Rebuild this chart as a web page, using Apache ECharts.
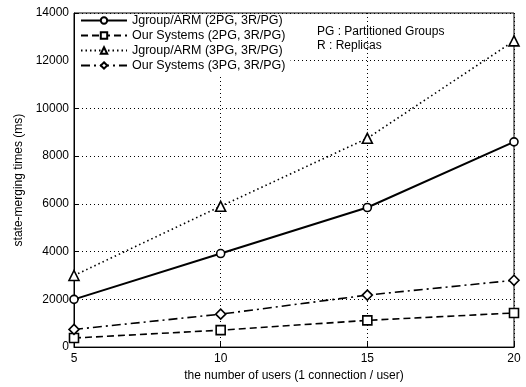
<!DOCTYPE html>
<html><head><meta charset="utf-8">
<script src="https://cdn.jsdelivr.net/npm/echarts@6/dist/echarts.min.js"></script>
<style>html,body{margin:0;padding:0;background:#fff}#c{width:526px;height:387px}</style>
</head><body><div id="c"></div>
<script>
const users = [5, 10, 15, 20];
const jgroup2PG = [2000, 3920, 5850, 8600];
const ours2PG = [380, 710, 1120, 1430];
const jgroup3PG = [3000, 5900, 8750, 12830];
const ours3PG = [740, 1380, 2180, 2800];
const seriesNames = ['Jgroup/ARM (2PG, 3R/PG)', 'Our Systems (2PG, 3R/PG)', 'Jgroup/ARM (3PG, 3R/PG)', 'Our Systems (3PG, 3R/PG)'];
const yTicks = [0, 2000, 4000, 6000, 8000, 10000, 12000, 14000];

const font = 'Liberation Sans, Arial, sans-serif';
function pts(v){ return users.map((u,i)=>[u, v[i]]); }
function mk(name, data, symbol, lineType, size){
  return {
    name, type:'line', data: pts(data), symbol, symbolSize: size,
    lineStyle:{color:'#000', width: lineType==='solid'?2:1.6, type: lineType},
    itemStyle:{color:'#fff', borderColor:'#000', borderWidth:1.6},
    emphasis:{disabled:true}, animation:false
  };
}
const chart = echarts.init(document.getElementById('c'));
chart.setOption({
  animation:false,
  grid:{left:74, right:12, top:13, bottom:38, show:true, borderColor:'#000', borderWidth:1},
  legend:{
    left:75, top:14, orient:'vertical', itemWidth:46, itemHeight:8, itemGap:2,
    padding:[0,5,4,5], backgroundColor:'#fff',
    textStyle:{fontFamily:font, fontSize:12.5, color:'#000'},
    data: seriesNames
  },
  xAxis:{
    type:'value', min:5, max:20, interval:5,
    name:'the number of users (1 connection / user)', nameLocation:'middle', nameGap:22,
    nameTextStyle:{fontFamily:font, fontSize:12, color:'#000'},
    axisLine:{lineStyle:{color:'#000'}},
    axisTick:{inside:true, length:5, lineStyle:{color:'#000'}},
    axisLabel:{fontFamily:font, fontSize:12, color:'#000', margin:6},
    splitLine:{show:true, lineStyle:{color:'#000', type:[1,3], width:1}}
  },
  yAxis:{
    type:'value', min:yTicks[0], max:yTicks[yTicks.length-1], interval:2000,
    name:'state-merging times (ms)', nameLocation:'middle', nameGap:40,
    nameTextStyle:{fontFamily:font, fontSize:12, color:'#000'},
    axisLine:{show:true, lineStyle:{color:'#000'}},
    axisTick:{show:true, inside:true, length:5, lineStyle:{color:'#000'}},
    axisLabel:{fontFamily:font, fontSize:12, color:'#000', margin:5, formatter: v => String(v)},
    splitLine:{show:true, lineStyle:{color:'#000', type:[1,3], width:1}}
  },
  graphic:[
    {type:'text', left:317, top:26, style:{text:'PG : Partitioned Groups', fontFamily:font, fontSize:12, fill:'#000'}},
    {type:'text', left:317, top:40, style:{text:'R : Replicas', fontFamily:font, fontSize:12, fill:'#000'}}
  ],
  series:[
    mk(seriesNames[0], jgroup2PG, 'circle', 'solid', 8),
    mk(seriesNames[1], ours2PG, 'rect', [7,4], 9),
    mk(seriesNames[2], jgroup3PG, 'triangle', [1.5,3], 10),
    mk(seriesNames[3], ours3PG, 'diamond', [9,4,2,4], 10)
  ]
});
</script></body></html>
